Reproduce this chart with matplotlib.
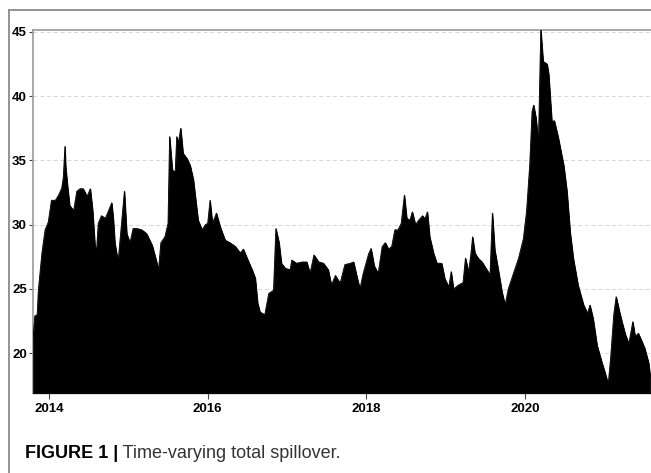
import matplotlib.pyplot as plt
from matplotlib.lines import Line2D

# decimal years and total spillover index
years = [
    2013.80, 2013.82, 2013.85, 2013.865, 2013.91, 2013.95, 2013.99, 2014.03,
    2014.08, 2014.12, 2014.16, 2014.18, 2014.20, 2014.21, 2014.23, 2014.26,
    2014.31, 2014.35, 2014.39, 2014.43, 2014.48, 2014.52, 2014.55, 2014.58,
    2014.60, 2014.62, 2014.66, 2014.71, 2014.75, 2014.79, 2014.81, 2014.83,
    2014.87, 2014.92, 2014.95, 2014.98, 2015.02, 2015.06, 2015.11, 2015.17,
    2015.23, 2015.30, 2015.34, 2015.38, 2015.41, 2015.46, 2015.50, 2015.52,
    2015.555, 2015.59, 2015.61, 2015.63, 2015.66, 2015.69, 2015.74, 2015.78,
    2015.82, 2015.85, 2015.88, 2015.93, 2015.97, 2016.00, 2016.03, 2016.06,
    2016.11, 2016.16, 2016.22, 2016.28, 2016.35, 2016.41, 2016.45, 2016.49,
    2016.56, 2016.60, 2016.63, 2016.66, 2016.72, 2016.77, 2016.83, 2016.86,
    2016.90, 2016.93, 2016.98, 2017.04, 2017.06, 2017.12, 2017.19, 2017.25,
    2017.29, 2017.34, 2017.40, 2017.46, 2017.52, 2017.56, 2017.61, 2017.67,
    2017.73, 2017.80, 2017.84, 2017.88, 2017.92, 2017.96, 2018.03, 2018.06,
    2018.10, 2018.15, 2018.20, 2018.24, 2018.28, 2018.32, 2018.36, 2018.40,
    2018.44, 2018.48, 2018.51, 2018.55, 2018.58, 2018.62, 2018.66, 2018.71,
    2018.74, 2018.77, 2018.80, 2018.85, 2018.89, 2018.95, 2018.99, 2019.04,
    2019.07, 2019.10, 2019.16, 2019.22, 2019.25, 2019.29, 2019.32, 2019.34,
    2019.37, 2019.41, 2019.46, 2019.50, 2019.54, 2019.56, 2019.59, 2019.62,
    2019.67, 2019.71, 2019.75, 2019.79, 2019.86, 2019.92, 2019.98, 2020.02,
    2020.06, 2020.09, 2020.11, 2020.14, 2020.17, 2020.20, 2020.23, 2020.28,
    2020.30, 2020.34, 2020.37, 2020.42, 2020.49, 2020.53, 2020.57, 2020.61,
    2020.67, 2020.74, 2020.79, 2020.82, 2020.86, 2020.91, 2020.97, 2021.01,
    2021.05, 2021.08, 2021.12, 2021.15, 2021.19, 2021.23, 2021.27, 2021.31,
    2021.36, 2021.39, 2021.43, 2021.47, 2021.51, 2021.56, 2021.58,
]
spillover = [
    21.3, 22.9, 23.0, 24.9, 27.8, 29.6, 30.2, 31.9,
    31.9, 32.3, 32.85, 33.7, 36.1, 34.5, 33.2, 31.5,
    31.1, 32.6, 32.8, 32.8, 32.2, 32.8, 31.1, 28.3,
    28.1, 30.1, 30.7, 30.5, 31.1, 31.7, 30.5, 28.6,
    27.1, 30.5, 32.6, 29.3, 28.6, 29.7, 29.7, 29.6,
    29.3, 28.4, 27.5, 26.5, 28.6, 29.05, 30.1, 36.85,
    34.25, 34.1, 36.85, 36.35, 37.5, 35.55, 35.15, 34.6,
    33.5, 31.9, 30.35, 29.6, 30.0, 30.1, 31.9, 30.1,
    30.9, 29.8, 28.8, 28.6, 28.3, 27.8, 28.1, 27.5,
    26.5, 25.85, 23.9, 23.2, 23.0, 24.65, 24.9, 29.7,
    28.6, 27.0, 26.6, 26.5, 27.25, 27.0, 27.1, 27.1,
    26.2, 27.65, 27.1, 27.0, 26.5, 25.3, 26.05, 25.45,
    26.9, 27.0, 27.1, 26.0, 25.0, 26.2, 27.75, 28.15,
    26.8, 26.2, 28.3, 28.6, 28.1, 28.3, 29.6, 29.6,
    30.1, 32.3, 30.5, 30.35, 31.0, 30.0, 30.35, 30.7,
    30.45, 31.0, 29.05, 27.75, 27.0, 27.0, 25.8, 25.15,
    26.35, 25.0, 25.3, 25.5, 27.4, 26.3, 27.8, 29.05,
    27.8, 27.4, 27.1, 26.7, 26.3, 26.1, 30.9, 28.05,
    26.3, 24.8, 23.75, 25.0, 26.3, 27.4, 28.9, 31.0,
    34.6, 38.8, 39.3, 38.3, 36.3, 45.2, 42.7, 42.5,
    41.7, 38.0, 38.1, 36.8, 34.6, 32.6, 29.45, 27.4,
    25.3, 23.75, 23.1, 23.75, 22.7, 20.6, 19.3, 18.5,
    17.6, 19.6, 23.0, 24.4, 23.3, 22.3, 21.4, 20.75,
    22.45, 21.3, 21.55, 21.0, 20.4, 19.25, 18.2,
]

year_ticks = [2014, 2016, 2018, 2020]
value_ticks = [20, 25, 30, 35, 40, 45]

plt.rcParams['font.family'] = ['Liberation Sans', 'DejaVu Sans']

fig = plt.figure(figsize=(6.51, 4.73), dpi=100)
ax = fig.add_axes([0.0507, 0.169, 0.9493, 0.7676])

ymin = 16.9
ax.fill_between(years, spillover, ymin, color='black', linewidth=0.6, zorder=3)
ax.plot(years, spillover, color='black', linewidth=0.6, zorder=3)

ax.set_xlim(2013.798, 2021.59)
ax.set_ylim(ymin, 45.15)
ax.set_xticks(year_ticks)
ax.set_xticklabels([str(y) for y in year_ticks])
ax.set_yticks(value_ticks)

ax.grid(axis='y', color='#d8d8d0', linestyle=(0, (4, 3)), linewidth=0.7, zorder=0)
ax.tick_params(axis='both', labelsize=9.5, width=0.8, color='#444444', pad=2)
ax.tick_params(axis='y', length=3, pad=1.5)
ax.tick_params(axis='x', length=4, pad=3.5)
for lab in ax.get_xticklabels() + ax.get_yticklabels():
    lab.set_fontweight('bold')

ax.spines['top'].set_color('#9a9a9a')
ax.spines['top'].set_linewidth(1.2)
ax.spines['left'].set_color('#9a9a9a')
ax.spines['left'].set_linewidth(1.2)
ax.spines['bottom'].set_color('#555555')
ax.spines['bottom'].set_linewidth(1.0)
ax.spines['right'].set_visible(False)

# page frame around figure (left and top)
fig.add_artist(Line2D([0.0138, 0.0138], [0.0, 0.979], color='#8a8a8a', linewidth=1.3))
fig.add_artist(Line2D([0.0138, 1.0], [0.979, 0.979], color='#8a8a8a', linewidth=1.3))

t1 = fig.text(0.038, 0.032, 'FIGURE 1 |', fontsize=13, fontweight='bold',
              color='black', va='baseline')
ax.annotate(' Time-varying total spillover.', xy=(1, 0), xycoords=t1,
            fontsize=13, color='#333333', va='bottom', annotation_clip=False)

plt.savefig('out.png', dpi=100)
